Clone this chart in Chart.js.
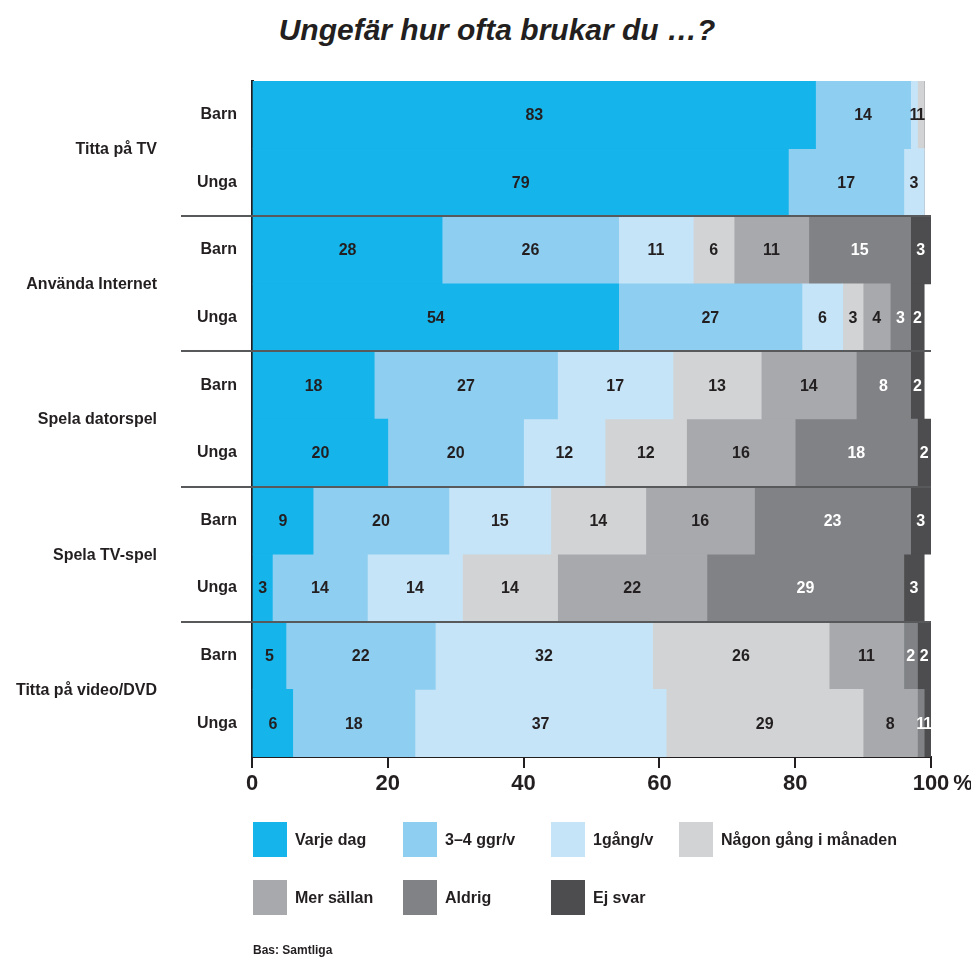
<!DOCTYPE html>
<html><head><meta charset="utf-8">
<script src="https://cdn.jsdelivr.net/npm/chart.js@4.4.1/dist/chart.umd.min.js"></script>
<style>
html,body{margin:0;padding:0;background:#fff;}
#wrap{position:relative;width:971px;height:958px;overflow:hidden;font-family:"Liberation Sans",Arial,sans-serif;color:#231f20;}
#title{position:absolute;left:497px;top:12px;transform:translateX(-50%);white-space:nowrap;font-weight:bold;font-style:italic;font-size:30px;line-height:36px;}
canvas{position:absolute;left:0;top:0;}
.leg{position:absolute;display:flex;align-items:center;font-weight:bold;font-size:16px;white-space:nowrap;height:35px;}
.sw{width:34px;height:35px;margin-right:8px;flex:none;}
#foot{position:absolute;left:253px;top:942px;font-size:12px;font-weight:bold;line-height:16px;}
</style></head>
<body>
<div id="wrap">
<div id="title">Ungefär hur ofta brukar du …?</div>
<canvas id="c" width="971" height="958"></canvas>
<div id="legend"></div>
<div id="foot">Bas: Samtliga</div>
</div>
<script>
// ---- data ----
const groups = ["Titta på TV", "Använda Internet", "Spela datorspel", "Spela TV-spel", "Titta på video/DVD"];
const subgroups = ["Barn", "Unga"];
const seriesNames = ["Varje dag", "3–4 ggr/v", "1gång/v", "Någon gång i månaden", "Mer sällan", "Aldrig", "Ej svar"];
const varjeDag  = [83, 79, 28, 54, 18, 20,  9,  3,  5,  6];
const ggr34     = [14, 17, 26, 27, 27, 20, 20, 14, 22, 18];
const enGang    = [ 1,  3, 11,  6, 17, 12, 15, 14, 32, 37];
const nagonGang = [ 1,  0,  6,  3, 13, 12, 14, 14, 26, 29];
const merSallan = [ 0,  0, 11,  4, 14, 16, 16, 22, 11,  8];
const aldrig    = [ 0,  0, 15,  3,  8, 18, 23, 29,  2,  1];
const ejSvar    = [ 0,  0,  3,  2,  2,  2,  3,  3,  2,  1];
const xTicks = [0, 20, 40, 60, 80, 100];

// ---- styles ----
const colors = ["#15b4ea", "#8ecef1", "#c6e4f7", "#d1d3d4", "#a7a9ac", "#808285", "#4d4d4f"];
const whiteLabel = [false, false, false, false, false, true, true];
const TXT = "#231f20";
const FONT = '"Liberation Sans", Arial, sans-serif';

const labels = [];
groups.forEach(() => subgroups.forEach(s => labels.push(s)));
const seriesData = [varjeDag, ggr34, enGang, nagonGang, merSallan, aldrig, ejSvar];

const datasets = seriesNames.map((n, i) => ({
  label: n, data: seriesData[i], backgroundColor: colors[i],
  borderWidth: 0, barPercentage: 1, categoryPercentage: 1
}));

// legend (HTML)
const legPos = [[253, 822], [403, 822], [551, 822], [679, 822], [253, 880], [403, 880], [551, 880]];
const legEl = document.getElementById('legend');
seriesNames.forEach((n, i) => {
  const d = document.createElement('div');
  d.className = 'leg';
  d.style.left = legPos[i][0] + 'px';
  d.style.top = legPos[i][1] + 'px';
  d.innerHTML = '<div class="sw" style="background:' + colors[i] + '"></div><span></span>';
  d.querySelector('span').textContent = n;
  legEl.appendChild(d);
});

const TICK_FONT_SIZE = 22;
const TICK_LEN = 11;
const TICK_PAD = 3;

const valuePlugin = {
  id: 'values',
  afterDatasetsDraw(chart) {
    const ctx = chart.ctx;
    ctx.save();
    ctx.font = 'bold 16px ' + FONT;
    ctx.textAlign = 'center';
    ctx.textBaseline = 'middle';
    chart.data.datasets.forEach((ds, i) => {
      const meta = chart.getDatasetMeta(i);
      meta.data.forEach((bar, j) => {
        const v = ds.data[j];
        if (!v) return;
        ctx.fillStyle = whiteLabel[i] ? '#fff' : TXT;
        ctx.fillText(String(v), (bar.x + bar.base) / 2, bar.y + 1);
      });
    });
    ctx.restore();
  }
};

const groupPlugin = {
  id: 'groups',
  afterDraw(chart) {
    const ctx = chart.ctx;
    const y = chart.scales.y, x = chart.scales.x;
    const right = chart.chartArea.right;
    ctx.save();
    // separator lines
    ctx.strokeStyle = '#58595b';
    ctx.lineWidth = 2;
    for (let g = 1; g < groups.length; g++) {
      const py = Math.round((y.getPixelForValue(2 * g - 1) + y.getPixelForValue(2 * g)) / 2);
      ctx.beginPath();
      ctx.moveTo(181, py);
      ctx.lineTo(right, py);
      ctx.stroke();
    }
    // group labels
    ctx.fillStyle = TXT;
    ctx.font = 'bold 16px ' + FONT;
    ctx.textAlign = 'right';
    ctx.textBaseline = 'middle';
    groups.forEach((g, i) => {
      const py = (y.getPixelForValue(2 * i) + y.getPixelForValue(2 * i + 1)) / 2;
      ctx.fillText(g, 157, py + 1);
    });
    // percent sign after last tick, aligned with tick labels
    ctx.font = 'bold ' + TICK_FONT_SIZE + 'px ' + FONT;
    ctx.textAlign = 'left';
    ctx.textBaseline = 'middle';
    const lastW = ctx.measureText(String(xTicks[xTicks.length - 1])).width;
    ctx.fillText('%', x.getPixelForValue(xTicks[xTicks.length - 1]) + lastW / 2 + 4,
      x.top + TICK_LEN + TICK_PAD + TICK_FONT_SIZE * 1.2 / 2);
    ctx.restore();
  }
};

new Chart(document.getElementById('c'), {
  type: 'bar',
  data: { labels: labels, datasets: datasets },
  plugins: [valuePlugin, groupPlugin],
  options: {
    responsive: false,
    animation: false,
    indexAxis: 'y',
    layout: { padding: { left: 0, right: 40, top: 81, bottom: 161 } },
    plugins: { legend: { display: false }, tooltip: { enabled: false }, title: { display: false } },
    scales: {
      x: {
        stacked: true, min: 0, max: 100, z: 1,
        afterBuildTicks(s) { s.ticks = xTicks.map(v => ({ value: v })); },
        ticks: { padding: TICK_PAD, color: TXT, maxRotation: 0, autoSkip: false, font: { family: FONT, size: TICK_FONT_SIZE, weight: 'bold' } },
        grid: { drawOnChartArea: false, drawTicks: true, tickLength: TICK_LEN, color: TXT, lineWidth: 2 },
        border: { display: true, color: TXT, width: 2 },
        afterFit(s) { s.height = 40; }
      },
      y: {
        stacked: true, z: 1,
        ticks: { padding: 15, color: TXT, font: { family: FONT, size: 16, weight: 'bold' } },
        grid: { display: false, drawTicks: false },
        border: { display: true, color: TXT, width: 3 },
        afterFit(s) { s.width = 252; }
      }
    }
  }
});
</script>
</body></html>
